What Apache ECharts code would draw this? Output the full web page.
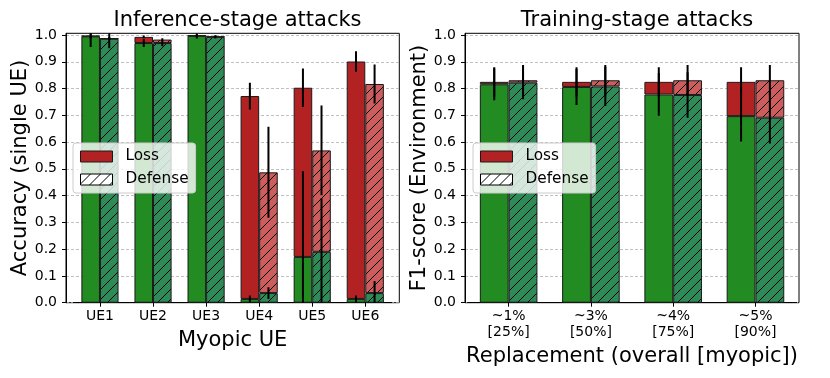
<!DOCTYPE html>
<html>
<head>
<meta charset="utf-8">
<script src="https://cdn.jsdelivr.net/npm/echarts@6/dist/echarts.min.js"></script>
<style>
  html, body { margin: 0; padding: 0; background: #fff; }
  #main { width: 830px; height: 378px; }
</style>
</head>
<body>
<div id="main"></div>
<script>
var myChart = echarts.init(document.getElementById('main'));

// 左图：推理阶段攻击
var ueCats = ['UE1', 'UE2', 'UE3', 'UE4', 'UE5', 'UE6'];
var ueClean = [0.997, 0.993, 0.998, 0.772, 0.803, 0.901];       // 无防御，无攻击
var ueAttacked = [0.995, 0.970, 0.997, 0.014, 0.171, 0.014];    // 无防御，受攻击
var ueCleanErr = [0.01, 0.005, 0.004, 0.05, 0.072, 0.038];
var ueAttackedErr = [0.04, 0.015, 0.01, 0.013, 0.32, 0.013];
var ueDefClean = [0.987, 0.983, 0.994, 0.487, 0.569, 0.817];    // 有防御
var ueDefAttacked = [0.986, 0.970, 0.993, 0.036, 0.190, 0.036];
var ueDefCleanErr = [0.006, 0.005, 0.004, 0.17, 0.168, 0.073];
var ueDefAttackedErr = [0.035, 0.012, 0.006, 0.022, 0.2, 0.045];

// 右图：训练阶段攻击
var repCats = ['~1%\n[25%]', '~3%\n[50%]', '~4%\n[75%]', '~5%\n[90%]'];
var repClean = [0.825, 0.825, 0.825, 0.825];
var repAttacked = [0.816, 0.806, 0.778, 0.697];
var repCleanErr = [0.055, 0.055, 0.055, 0.055];
var repAttackedErr = [0.06, 0.067, 0.08, 0.095];
var repDefClean = [0.831, 0.831, 0.831, 0.831];
var repDefAttacked = [0.822, 0.808, 0.776, 0.691];
var repDefCleanErr = [0.057, 0.057, 0.057, 0.057];
var repDefAttackedErr = [0.062, 0.073, 0.085, 0.096];

var yTicks = [0, 0.1, 0.2, 0.3, 0.4, 0.5, 0.6, 0.7, 0.8, 0.9, 1.0];
var yMax = 1.0064;

var GREEN = '#228B22', SEAGREEN = '#2E8B57', RED = '#B22222', LIGHTRED = '#CD5C5C';
var EDGE = '#1a1a1a';
var FONT = 'DejaVu Sans';

// 斜线填充
function hatch(bg) {
    var s = 10;
    var c = document.createElement('canvas');
    c.width = s; c.height = s;
    var g = c.getContext('2d');
    g.fillStyle = bg;
    g.fillRect(0, 0, s, s);
    g.strokeStyle = '#000';
    g.lineWidth = 1;
    g.beginPath();
    g.moveTo(-1, s + 1); g.lineTo(s + 1, -1);
    g.moveTo(-1, 1); g.lineTo(1, -1);
    g.moveTo(s - 1, s + 1); g.lineTo(s + 1, s - 1);
    g.stroke();
    return { image: c, repeat: 'repeat' };
}

function diff(a, b) {
    return a.map(function (v, i) { return +(v - b[i]).toFixed(4); });
}

function errData(vals, errs, side) {
    return vals.map(function (v, i) { return [i, v - errs[i], v + errs[i], side]; });
}

function renderErr(params, api) {
    var i = api.value(0);
    var band = api.size([1, 0])[0];
    var x = api.coord([i, 0])[0] + api.value(3) * band * 0.175;
    var p1 = api.coord([i, api.value(1)]);
    var p2 = api.coord([i, api.value(2)]);
    return {
        type: 'line',
        shape: { x1: x, y1: p1[1], x2: x, y2: p2[1] },
        style: { stroke: '#000', lineWidth: 2 }
    };
}

function barSeries(ax, stack, data, color) {
    return {
        type: 'bar', xAxisIndex: ax, yAxisIndex: ax, stack: stack, data: data,
        barGap: '0%', barCategoryGap: '30%',
        itemStyle: { color: color, borderColor: EDGE, borderWidth: 1 },
        emphasis: { disabled: true }, silent: true
    };
}

function errSeries(ax, data) {
    return {
        type: 'custom', xAxisIndex: ax, yAxisIndex: ax, clip: true, silent: true,
        encode: { x: 0, y: [1, 2] }, renderItem: renderErr, data: data, z: 5
    };
}

function frameY(idx, name) {
    return {
        gridIndex: idx, type: 'value', min: 0, max: yMax, interval: 0.1,
        name: name, nameLocation: 'middle', nameGap: 35,
        nameTextStyle: { fontSize: 21, color: '#000', fontFamily: FONT },
        axisLine: { show: true, lineStyle: { color: '#000', width: 1 } },
        axisTick: { show: true, length: 4, customValues: yTicks, lineStyle: { color: '#000' } },
        axisLabel: {
            fontSize: 14, color: '#000', margin: 9, fontFamily: FONT,
            customValues: yTicks,
            formatter: function (v) { return v > 1.001 ? '' : v.toFixed(1); }
        },
        splitLine: { show: true, lineStyle: { color: '#b0b0b0', width: 0.8, type: [3, 2] } }
    };
}

function dataX(idx, cats, name, gap) {
    return {
        gridIndex: idx, type: 'category', data: cats,
        name: name, nameLocation: 'middle', nameGap: gap,
        nameTextStyle: { fontSize: 21, color: '#000', fontFamily: FONT },
        axisLine: { show: true, lineStyle: { color: '#000', width: 1 } },
        axisTick: { show: true, alignWithLabel: true, length: 4, lineStyle: { color: '#000' } },
        axisLabel: { fontSize: 14, color: '#000', margin: 6, lineHeight: 16, fontFamily: FONT, interval: 0 }
    };
}

function legendAt(x) {
    return {
        orient: 'vertical', left: x, top: 143,
        itemWidth: 32, itemHeight: 11, itemGap: 8, icon: 'rect',
        padding: [6, 7, 6, 7],
        backgroundColor: 'rgba(255,255,255,0.8)', borderColor: '#cccccc', borderWidth: 1, borderRadius: 3,
        selectedMode: false,
        textStyle: { fontSize: 15.3, color: '#000', fontFamily: FONT, padding: [0, 0, 0, 8] },
        data: [
            { name: 'Loss', itemStyle: { color: RED, borderColor: EDGE, borderWidth: 1 } },
            { name: 'Defense', itemStyle: { color: hatch('#ffffff'), borderColor: '#000', borderWidth: 1 } }
        ]
    };
}

option = {
    animation: false,
    textStyle: { fontFamily: FONT },
    title: [
        { text: 'Inference-stage attacks', left: 232.5, top: 5, textAlign: 'center',
          textStyle: { fontSize: 21, fontWeight: 'normal', color: '#000', fontFamily: FONT } },
        { text: 'Training-stage attacks', left: 632, top: 5, textAlign: 'center',
          textStyle: { fontSize: 21, fontWeight: 'normal', color: '#000', fontFamily: FONT } }
    ],
    legend: [legendAt(73), legendAt(473)],
    grid: [
        { left: 66, top: 33.3, width: 333.3, height: 269.4, show: true, borderColor: '#000', borderWidth: 1 },
        { left: 73.43, top: 33.3, width: 318.4, height: 269.4 },
        { left: 465, top: 33.3, width: 334, height: 269.4, show: true, borderColor: '#000', borderWidth: 1 },
        { left: 467.5, top: 33.3, width: 329.1, height: 269.4 }
    ],
    xAxis: [
        { gridIndex: 0, type: 'value', show: false, min: 0, max: 1 },
        dataX(1, ueCats, 'Myopic UE', 21),
        { gridIndex: 2, type: 'value', show: false, min: 0, max: 1 },
        dataX(3, repCats, 'Replacement (overall [myopic])', 38)
    ],
    yAxis: [
        frameY(0, 'Accuracy (single UE)'),
        { gridIndex: 1, type: 'value', min: 0, max: yMax, show: false },
        frameY(2, 'F1-score (Environment)'),
        { gridIndex: 3, type: 'value', min: 0, max: yMax, show: false }
    ],
    series: [
        // 图例占位
        { name: 'Loss', type: 'bar', xAxisIndex: 0, yAxisIndex: 0, data: [],
          itemStyle: { color: RED, borderColor: EDGE, borderWidth: 1 } },
        { name: 'Defense', type: 'bar', xAxisIndex: 0, yAxisIndex: 0, data: [],
          itemStyle: { color: hatch('#ffffff'), borderColor: '#000', borderWidth: 1 } },

        barSeries(1, 'ueNoDef', ueAttacked, GREEN),
        barSeries(1, 'ueNoDef', diff(ueClean, ueAttacked), RED),
        barSeries(1, 'ueDef', ueDefAttacked, hatch(SEAGREEN)),
        barSeries(1, 'ueDef', diff(ueDefClean, ueDefAttacked), hatch(LIGHTRED)),
        errSeries(1, errData(ueClean, ueCleanErr, -1)
            .concat(errData(ueAttacked, ueAttackedErr, -1))
            .concat(errData(ueDefClean, ueDefCleanErr, 1))
            .concat(errData(ueDefAttacked, ueDefAttackedErr, 1))),

        barSeries(3, 'repNoDef', repAttacked, GREEN),
        barSeries(3, 'repNoDef', diff(repClean, repAttacked), RED),
        barSeries(3, 'repDef', repDefAttacked, hatch(SEAGREEN)),
        barSeries(3, 'repDef', diff(repDefClean, repDefAttacked), hatch(LIGHTRED)),
        errSeries(3, errData(repClean, repCleanErr, -1)
            .concat(errData(repAttacked, repAttackedErr, -1))
            .concat(errData(repDefClean, repDefCleanErr, 1))
            .concat(errData(repDefAttacked, repDefAttackedErr, 1)))
    ]
};
myChart.setOption(option);
</script>
</body>
</html>
